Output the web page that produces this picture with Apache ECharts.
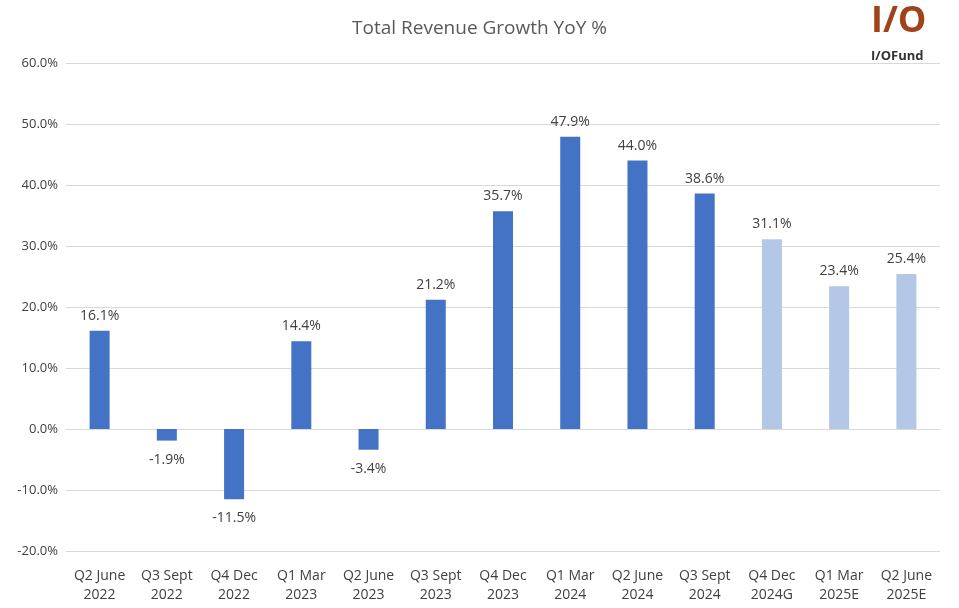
<!DOCTYPE html>
<html><head><meta charset="utf-8">
<script src="https://cdn.jsdelivr.net/npm/echarts@6/dist/echarts.min.js"></script>
<style>html,body{margin:0;padding:0;background:#fff}#c{width:959px;height:608px}</style>
</head><body><div id="c"></div>
<script>
const categories = ["Q2 June\n2022","Q3 Sept\n2022","Q4 Dec\n2022","Q1 Mar\n2023","Q2 June\n2023","Q3 Sept\n2023","Q4 Dec\n2023","Q1 Mar\n2024","Q2 June\n2024","Q3 Sept\n2024","Q4 Dec\n2024G","Q1 Mar\n2025E","Q2 June\n2025E"];
const values = [16.1,-1.9,-11.5,14.4,-3.4,21.2,35.7,47.9,44.0,38.6,31.1,23.4,25.4];
const estimated = [false,false,false,false,false,false,false,false,false,false,true,true,true];
const chart = echarts.init(document.getElementById('c'));
chart.setOption({
  animation:false,
  title:{text:'Total Revenue Growth YoY %',left:'center',top:14,textStyle:{fontFamily:'Open Sans',fontSize:19,fontWeight:'normal',color:'#595959'}},
  grid:{left:66,right:19,top:63,bottom:57},
  xAxis:{type:'category',data:categories,axisTick:{show:false},axisLine:{lineStyle:{color:'#d9d9d9'}},
    axisLabel:{color:'#404040',fontFamily:'Open Sans',fontSize:14,lineHeight:19,interval:0,margin:16}},
  yAxis:{type:'value',min:-20,max:60,interval:10,axisLabel:{formatter:v=>v.toFixed(1)+'%',color:'#404040',fontFamily:'Open Sans',fontSize:13},
    splitLine:{lineStyle:{color:'#d9d9d9'}}},
  series:[{type:'bar',barWidth:20,
    data:values.map((v,i)=>({value:v,itemStyle:{color:estimated[i]?'#B4C7E7':'#4472C4'},
      label:{position:v<0?'bottom':'top',distance:v<0?12:8}})),
    label:{show:true,formatter:p=>p.value.toFixed(1)+'%',color:'#404040',fontFamily:'Open Sans',fontSize:14}}],
  graphic:[
    {type:'text',left:871,top:4,style:{text:'I/O',font:'bold 36px Open Sans',fill:'#a0421a'}},
    {type:'text',left:871,top:50,style:{text:'I/OFund',font:'bold 13px Open Sans',fill:'#333'}}
  ]
});
</script></body></html>
